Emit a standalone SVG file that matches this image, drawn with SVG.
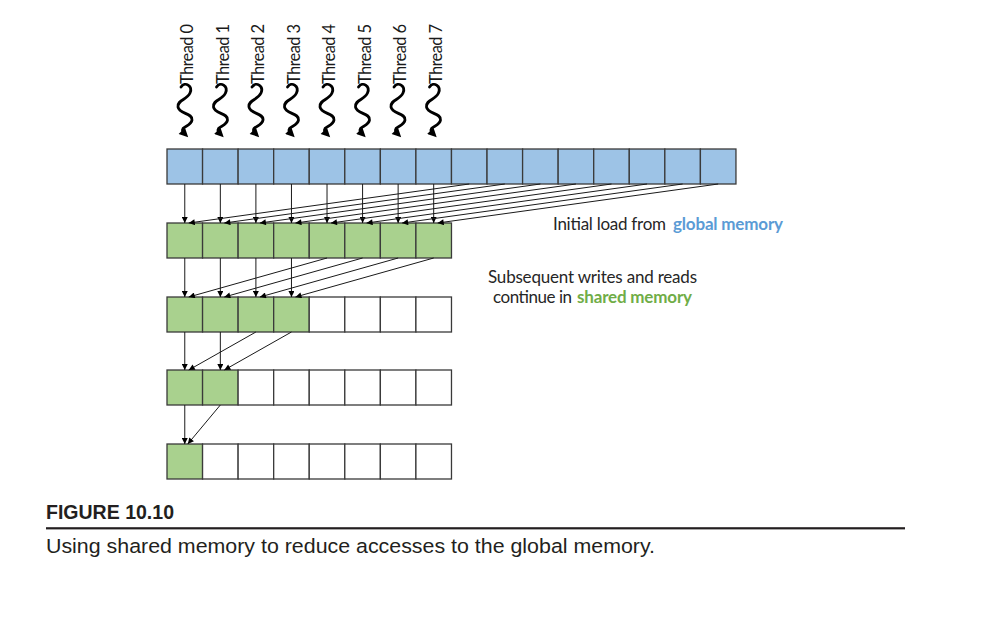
<svg xmlns="http://www.w3.org/2000/svg" width="987" height="638" viewBox="0 0 987 638">
<defs>
<style>
.cell{stroke:#3a3a3a;stroke-width:1.3}
.b{fill:#9DC3E6}
.g{fill:#A9D18E}
.w{fill:#ffffff}
.con line{stroke:#1a1a1a;stroke-width:1;marker-end:url(#ah)}
.sq{fill:none;stroke:#000;stroke-width:2.8;stroke-linecap:round;marker-end:url(#sh)}
.th{font-family:Lato,"Open Sans","Liberation Sans",sans-serif;font-size:16.5px;fill:#1a1a1a}
.lbl{font-family:Lato,"Open Sans","Liberation Sans",sans-serif;font-size:17px;fill:#262626}
.blue{fill:#5B9BD5;font-weight:bold}
.green{fill:#70AD47;font-weight:bold}
.cap{font-family:'Liberation Sans Narrow','Liberation Sans',Arial,sans-serif;fill:#231f20}
</style>
<marker id="ah" viewBox="0 0 10 10" refX="10" refY="5" markerWidth="7" markerHeight="6" markerUnits="userSpaceOnUse" orient="auto"><path d="M0,0 L10,5 L0,10 z" fill="#000"/></marker>
<marker id="sh" viewBox="0 0 10 10" refX="5" refY="5" markerWidth="10" markerHeight="9" markerUnits="userSpaceOnUse" orient="auto"><path d="M0,0 L10,5 L0,10 z" fill="#000"/></marker>
<path id="wave" d="M181,87 C185,81 193,86 190,93 C187,100 177,100 178,107 C179,114 193,113 192,120 C191,127 180,126 183,132 L185,134"/>
</defs>
<rect width="987" height="638" fill="#ffffff"/>

<g id="threads">
<g id="thread0"><use href="#wave" class="sq"/><text class="th" transform="translate(193,84) rotate(-90)" textLength="60">Thread 0</text></g>
<g id="thread1" transform="translate(35.5,0)"><use href="#wave" class="sq"/><text class="th" transform="translate(193,84) rotate(-90)" textLength="60">Thread 1</text></g>
<g id="thread2" transform="translate(71,0)"><use href="#wave" class="sq"/><text class="th" transform="translate(193,84) rotate(-90)" textLength="60">Thread 2</text></g>
<g id="thread3" transform="translate(106.5,0)"><use href="#wave" class="sq"/><text class="th" transform="translate(193,84) rotate(-90)" textLength="60">Thread 3</text></g>
<g id="thread4" transform="translate(142,0)"><use href="#wave" class="sq"/><text class="th" transform="translate(193,84) rotate(-90)" textLength="60">Thread 4</text></g>
<g id="thread5" transform="translate(177.5,0)"><use href="#wave" class="sq"/><text class="th" transform="translate(193,84) rotate(-90)" textLength="60">Thread 5</text></g>
<g id="thread6" transform="translate(213,0)"><use href="#wave" class="sq"/><text class="th" transform="translate(193,84) rotate(-90)" textLength="60">Thread 6</text></g>
<g id="thread7" transform="translate(248.5,0)"><use href="#wave" class="sq"/><text class="th" transform="translate(193,84) rotate(-90)" textLength="60">Thread 7</text></g>
</g>

<g id="global-row">
<rect class="cell b" x="167" y="149" width="35.56" height="35"/>
<rect class="cell b" x="202.56" y="149" width="35.56" height="35"/>
<rect class="cell b" x="238.12" y="149" width="35.56" height="35"/>
<rect class="cell b" x="273.68" y="149" width="35.56" height="35"/>
<rect class="cell b" x="309.24" y="149" width="35.56" height="35"/>
<rect class="cell b" x="344.8" y="149" width="35.56" height="35"/>
<rect class="cell b" x="380.36" y="149" width="35.56" height="35"/>
<rect class="cell b" x="415.92" y="149" width="35.56" height="35"/>
<rect class="cell b" x="451.48" y="149" width="35.56" height="35"/>
<rect class="cell b" x="487.04" y="149" width="35.56" height="35"/>
<rect class="cell b" x="522.6" y="149" width="35.56" height="35"/>
<rect class="cell b" x="558.16" y="149" width="35.56" height="35"/>
<rect class="cell b" x="593.72" y="149" width="35.56" height="35"/>
<rect class="cell b" x="629.28" y="149" width="35.56" height="35"/>
<rect class="cell b" x="664.84" y="149" width="35.56" height="35"/>
<rect class="cell b" x="700.4" y="149" width="35.56" height="35"/>
</g>

<g id="shared-row1">
<rect class="cell g" x="167" y="223" width="35.56" height="35"/>
<rect class="cell g" x="202.56" y="223" width="35.56" height="35"/>
<rect class="cell g" x="238.12" y="223" width="35.56" height="35"/>
<rect class="cell g" x="273.68" y="223" width="35.56" height="35"/>
<rect class="cell g" x="309.24" y="223" width="35.56" height="35"/>
<rect class="cell g" x="344.8" y="223" width="35.56" height="35"/>
<rect class="cell g" x="380.36" y="223" width="35.56" height="35"/>
<rect class="cell g" x="415.92" y="223" width="35.56" height="35"/>
</g>

<g id="shared-row2">
<rect class="cell g" x="167" y="297" width="35.56" height="35"/>
<rect class="cell g" x="202.56" y="297" width="35.56" height="35"/>
<rect class="cell g" x="238.12" y="297" width="35.56" height="35"/>
<rect class="cell g" x="273.68" y="297" width="35.56" height="35"/>
<rect class="cell w" x="309.24" y="297" width="35.56" height="35"/>
<rect class="cell w" x="344.8" y="297" width="35.56" height="35"/>
<rect class="cell w" x="380.36" y="297" width="35.56" height="35"/>
<rect class="cell w" x="415.92" y="297" width="35.56" height="35"/>
</g>

<g id="shared-row3">
<rect class="cell g" x="167" y="370" width="35.56" height="35"/>
<rect class="cell g" x="202.56" y="370" width="35.56" height="35"/>
<rect class="cell w" x="238.12" y="370" width="35.56" height="35"/>
<rect class="cell w" x="273.68" y="370" width="35.56" height="35"/>
<rect class="cell w" x="309.24" y="370" width="35.56" height="35"/>
<rect class="cell w" x="344.8" y="370" width="35.56" height="35"/>
<rect class="cell w" x="380.36" y="370" width="35.56" height="35"/>
<rect class="cell w" x="415.92" y="370" width="35.56" height="35"/>
</g>

<g id="shared-row4">
<rect class="cell g" x="167" y="444" width="35.56" height="35"/>
<rect class="cell w" x="202.56" y="444" width="35.56" height="35"/>
<rect class="cell w" x="238.12" y="444" width="35.56" height="35"/>
<rect class="cell w" x="273.68" y="444" width="35.56" height="35"/>
<rect class="cell w" x="309.24" y="444" width="35.56" height="35"/>
<rect class="cell w" x="344.8" y="444" width="35.56" height="35"/>
<rect class="cell w" x="380.36" y="444" width="35.56" height="35"/>
<rect class="cell w" x="415.92" y="444" width="35.56" height="35"/>
</g>

<g id="connectors" class="con">
<line x1="184.78" y1="184" x2="184.78" y2="223"/>
<line x1="220.34" y1="184" x2="220.34" y2="223"/>
<line x1="255.9" y1="184" x2="255.9" y2="223"/>
<line x1="291.46" y1="184" x2="291.46" y2="223"/>
<line x1="327.02" y1="184" x2="327.02" y2="223"/>
<line x1="362.58" y1="184" x2="362.58" y2="223"/>
<line x1="398.14" y1="184" x2="398.14" y2="223"/>
<line x1="433.7" y1="184" x2="433.7" y2="223"/>
<line x1="469.26" y1="184" x2="188.78" y2="223"/>
<line x1="504.82" y1="184" x2="224.34" y2="223"/>
<line x1="540.38" y1="184" x2="259.9" y2="223"/>
<line x1="575.94" y1="184" x2="295.46" y2="223"/>
<line x1="611.5" y1="184" x2="331.02" y2="223"/>
<line x1="647.06" y1="184" x2="366.58" y2="223"/>
<line x1="682.62" y1="184" x2="402.14" y2="223"/>
<line x1="718.18" y1="184" x2="437.7" y2="223"/>

<line x1="184.78" y1="258" x2="184.78" y2="297"/>
<line x1="220.34" y1="258" x2="220.34" y2="297"/>
<line x1="255.9" y1="258" x2="255.9" y2="297"/>
<line x1="291.46" y1="258" x2="291.46" y2="297"/>
<line x1="327.02" y1="258" x2="188.78" y2="297"/>
<line x1="362.58" y1="258" x2="224.34" y2="297"/>
<line x1="398.14" y1="258" x2="259.9" y2="297"/>
<line x1="433.7" y1="258" x2="295.46" y2="297"/>

<line x1="184.78" y1="332" x2="184.78" y2="370"/>
<line x1="220.34" y1="332" x2="220.34" y2="370"/>
<line x1="255.9" y1="332" x2="188.78" y2="370"/>
<line x1="291.46" y1="332" x2="224.34" y2="370"/>

<line x1="184.78" y1="405" x2="184.78" y2="444"/>
<line x1="220.34" y1="405" x2="187.78" y2="444"/>
</g>

<g id="labels">
<text class="lbl" x="553" y="230"><tspan textLength="113">Initial load from</tspan> <tspan class="blue" x="673" textLength="110">global memory</tspan></text>
<text class="lbl" x="488" y="283" textLength="209">Subsequent writes and reads</text>
<text class="lbl" x="493" y="303"><tspan textLength="79">continue in</tspan> <tspan class="green" x="577" textLength="115">shared memory</tspan></text>
</g>

<g id="caption">
<text class="cap" x="46" y="518.5" font-weight="bold" font-size="20.5" textLength="128" lengthAdjust="spacingAndGlyphs">FIGURE 10.10</text>
<rect x="46" y="527.2" width="859" height="2.2" fill="#231f20"/>
<text class="cap" x="46" y="553" font-size="20.5" textLength="609" lengthAdjust="spacingAndGlyphs">Using shared memory to reduce accesses to the global memory.</text>
</g>
</svg>
